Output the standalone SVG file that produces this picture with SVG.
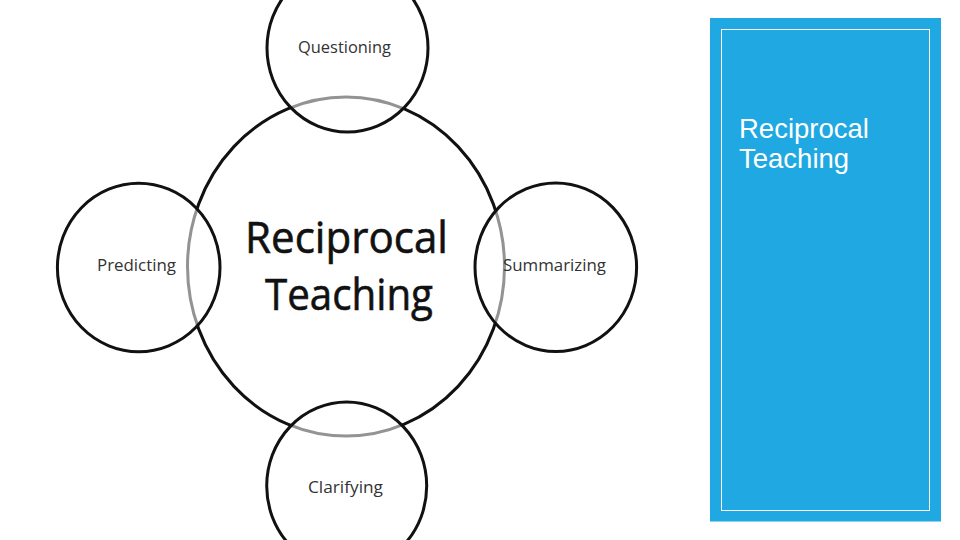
<svg xmlns="http://www.w3.org/2000/svg" width="960" height="540" viewBox="0 0 960 540">
<style>
.ring{fill:none;stroke:#111;stroke-width:3}
.small{fill:#fff;fill-opacity:0.55;stroke:#111;stroke-width:3}
.lbl{font-family:"Open Sans","Liberation Sans",sans-serif;font-size:17px;fill:#333}
.big{font-family:"Open Sans","Liberation Sans",sans-serif;font-size:44px;fill:#111;stroke:#111;stroke-width:0.6}
.panel-t{font-family:"Liberation Sans",Arial,sans-serif;font-size:27.5px;fill:#fff}
</style>
<rect width="960" height="540" fill="#fff"/>
<g id="center">
<ellipse class="ring" cx="346" cy="266.5" rx="158.5" ry="169.5"/>
<text class="big" x="245" y="253" textLength="203" lengthAdjust="spacingAndGlyphs">Reciprocal</text>
<text class="big" x="265" y="310" textLength="168" lengthAdjust="spacingAndGlyphs">Teaching</text>
</g>
<g id="questioning">
<ellipse class="small" cx="347.5" cy="48" rx="80.5" ry="84"/>
<text class="lbl" x="298" y="53" textLength="93" lengthAdjust="spacingAndGlyphs">Questioning</text>
</g>
<g id="predicting">
<ellipse class="small" cx="138.7" cy="267.5" rx="81.3" ry="84.2"/>
<text class="lbl" x="97" y="271" textLength="79" lengthAdjust="spacingAndGlyphs">Predicting</text>
</g>
<g id="summarizing">
<ellipse class="small" cx="555.8" cy="267.2" rx="80.8" ry="84.3"/>
<text class="lbl" x="503" y="271" textLength="103" lengthAdjust="spacingAndGlyphs">Summarizing</text>
</g>
<g id="clarifying">
<ellipse class="small" cx="346.7" cy="486" rx="80" ry="84"/>
<text class="lbl" x="308" y="493" textLength="75" lengthAdjust="spacingAndGlyphs">Clarifying</text>
</g>
<g id="connectors"></g>
<g id="panel">
<rect x="710" y="18" width="231" height="503.5" fill="#1fa8e1"/>
<rect x="721.5" y="29.5" width="208" height="481" fill="none" stroke="#fff" stroke-width="1"/>
<text class="panel-t" x="739" y="138">Reciprocal</text>
<text class="panel-t" x="739" y="168">Teaching</text>
</g>
</svg>
